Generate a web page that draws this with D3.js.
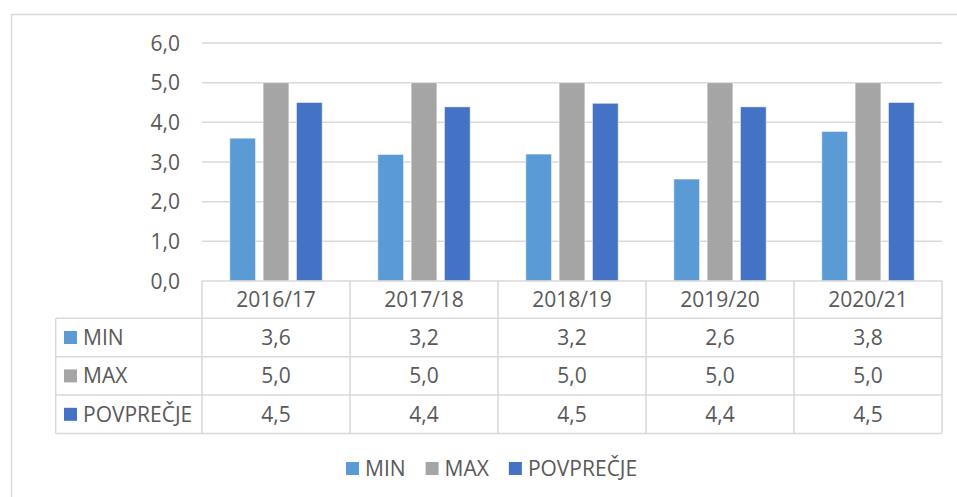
<!DOCTYPE html>
<html>
<head>
<meta charset="utf-8">
<script src="https://cdnjs.cloudflare.com/ajax/libs/d3/7.8.5/d3.min.js"></script>
<style>
  body { margin: 0; background: #fff; }
  svg { display: block; }
  text { font-family: "Open Sans", "Noto Sans", sans-serif; fill: #595959; }
</style>
</head>
<body>
<div id="chart"></div>
<script>
var W = 957, H = 497;

// data
var years = ['2016/17', '2017/18', '2018/19', '2019/20', '2020/21'];
var seriesNames = ['MIN', 'MAX', 'POVPREČJE'];
var minVals = [3.6, 3.19, 3.2, 2.57, 3.77];
var maxVals = [5.0, 5.0, 5.0, 5.0, 5.0];
var avgVals = [4.5, 4.39, 4.48, 4.39, 4.5];
var yTicks = [0, 1, 2, 3, 4, 5, 6];

var colors = ['#5B9BD5', '#A5A5A5', '#4472C4'];
var values = [minVals, maxVals, avgVals];

var grid = '#D9D9D9';
var plotLeft = 202, plotRight = 942, plotTop = 43, zeroY = 281;
var rowH = 38.4, headH = 37.3, tableLeft = 55.7;
var fs = '21px';

function fmt(v) { return v.toFixed(1).replace('.', ','); }

var svg = d3.select('#chart').append('svg')
  .attr('width', W).attr('height', H);

// chart frame
svg.append('rect')
  .attr('x', 11.5).attr('y', 14.5)
  .attr('width', W).attr('height', H)
  .attr('fill', 'none').attr('stroke', grid).attr('stroke-width', 1.5);

var y = d3.scaleLinear().domain([0, 6]).range([zeroY, plotTop]);
var x0 = d3.scaleBand().domain(years).range([plotLeft, plotRight]);
var groupW = 92.4;
var x1 = d3.scaleBand().domain(seriesNames).range([0, groupW]).paddingInner(0.228);
var off = (x0.bandwidth() - groupW) / 2;

// gridlines
svg.append('g').selectAll('line')
  .data(yTicks.slice(1))
  .enter().append('line')
  .attr('x1', plotLeft).attr('x2', plotRight)
  .attr('y1', function (d) { return y(d); })
  .attr('y2', function (d) { return y(d); })
  .attr('stroke', grid).attr('stroke-width', 1.5);

// y tick labels
svg.append('g').selectAll('text')
  .data(yTicks)
  .enter().append('text')
  .attr('x', 180)
  .attr('y', function (d) { return y(d); })
  .attr('dy', '0.36em')
  .attr('text-anchor', 'end')
  .style('font-size', fs)
  .text(fmt);

// bars
seriesNames.forEach(function (s, si) {
  svg.append('g').selectAll('rect')
    .data(values[si])
    .enter().append('rect')
    .attr('x', function (d, i) { return x0(years[i]) + off + x1(s); })
    .attr('y', function (d) { return y(d); })
    .attr('width', x1.bandwidth())
    .attr('height', function (d) { return zeroY - y(d); })
    .attr('fill', colors[si])
    .attr('stroke', '#ffffff').attr('stroke-opacity', 0.5).attr('stroke-width', 1);
});

// data table
var tb = svg.append('g');
var rowsTop = zeroY + headH;
var bottom = rowsTop + rowH * 3;

// horizontal lines
tb.append('line').attr('x1', plotLeft).attr('x2', plotRight)
  .attr('y1', zeroY).attr('y2', zeroY)
  .attr('stroke', grid).attr('stroke-width', 1.5);
d3.range(4).forEach(function (r) {
  tb.append('line').attr('x1', tableLeft).attr('x2', plotRight)
    .attr('y1', rowsTop + r * rowH).attr('y2', rowsTop + r * rowH)
    .attr('stroke', grid).attr('stroke-width', 1.5);
});
// vertical lines
tb.append('line').attr('x1', tableLeft).attr('x2', tableLeft)
  .attr('y1', rowsTop).attr('y2', bottom)
  .attr('stroke', grid).attr('stroke-width', 1.5);
tb.selectAll('line.v')
  .data(years.concat(['end']))
  .enter().append('line')
  .attr('class', 'v')
  .attr('x1', function (d) { return d === 'end' ? plotRight : x0(d); })
  .attr('x2', function (d) { return d === 'end' ? plotRight : x0(d); })
  .attr('y1', zeroY).attr('y2', bottom)
  .attr('stroke', grid).attr('stroke-width', 1.5);

// header
tb.selectAll('text.head')
  .data(years)
  .enter().append('text')
  .attr('class', 'head')
  .attr('x', function (d) { return x0(d) + x0.bandwidth() / 2; })
  .attr('y', zeroY + headH / 2)
  .attr('dy', '0.36em')
  .attr('text-anchor', 'middle')
  .style('font-size', fs)
  .text(function (d) { return d; });

// rows
seriesNames.forEach(function (s, si) {
  var cy = rowsTop + si * rowH + rowH / 2;
  tb.append('rect')
    .attr('x', 64).attr('y', cy - 6.5)
    .attr('width', 13).attr('height', 13)
    .attr('fill', colors[si]);
  tb.append('text')
    .attr('x', 83).attr('y', cy).attr('dy', '0.36em')
    .style('font-size', fs)
    .text(s);
  tb.selectAll(null)
    .data(values[si])
    .enter().append('text')
    .attr('x', function (d, i) { return x0(years[i]) + x0.bandwidth() / 2; })
    .attr('y', cy).attr('dy', '0.36em')
    .attr('text-anchor', 'middle')
    .style('font-size', fs)
    .text(fmt);
});

// legend
var legend = svg.append('g');
var lx = 346;
seriesNames.forEach(function (s, si) {
  var g = legend.append('g').attr('transform', 'translate(' + lx + ',0)');
  g.append('rect').attr('x', 0).attr('y', 462)
    .attr('width', 13).attr('height', 13).attr('fill', colors[si]);
  var t = g.append('text').attr('x', 19).attr('y', 468.5).attr('dy', '0.36em')
    .style('font-size', fs).text(s);
  lx += 19 + t.node().getComputedTextLength() + 20;
});
</script>
</body>
</html>
